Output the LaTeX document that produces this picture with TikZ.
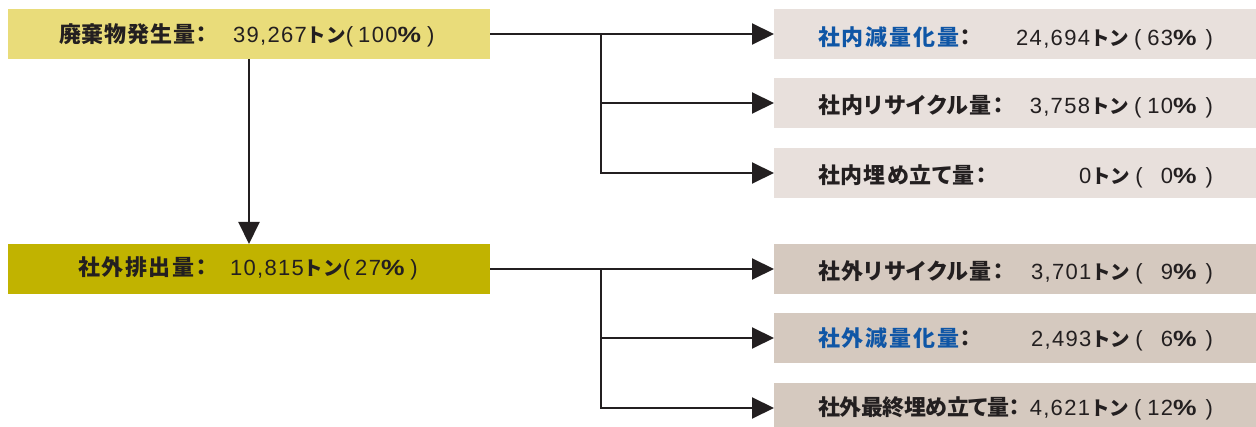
\documentclass[tikz,border=0pt]{standalone}
\usepackage{fontspec}
\usepackage{graphicx}
\usetikzlibrary{arrows.meta}
\newfontfamily\jpf{Noto Sans CJK JP}[RawFeature=+palt]
\newfontfamily\jpk{Noto Sans CJK JP}
\newfontfamily\numf{Liberation Sans}[LetterSpace=6]
\newfontfamily\parf{Liberation Sans}
\definecolor{ink}{HTML}{231F20}
\definecolor{srcfill}{HTML}{E9DC7A}
\definecolor{outfill}{HTML}{C1B300}
\definecolor{infill}{HTML}{E8E0DC}
\definecolor{exfill}{HTML}{D5C9BF}
\definecolor{lblblue}{HTML}{0F56A6}
\newcommand\lbl[2]{{\jpf\bfseries\fontsize{22}{26}\selectfont\addfontfeature{LetterSpace=#1}#2}}
\newcommand\nm[1]{{\numf\fontsize{22}{26}\selectfont #1}}
\newcommand\pr[1]{{\parf\fontsize{22}{26}\selectfont #1}}
\newcommand\tn{{\jpk\bfseries\fontsize{19.5}{23}\selectfont トン}}
\newcommand\pc{{\parf\bfseries\fontsize{22}{26}\selectfont\scalebox{1.2}[1]{\%}}}
\newcommand\rval[2]{\nm{#1}\tn\hspace{5pt}\pr{(}\hspace{6pt}\nm{#2}\pc\hspace{9pt}\pr{)}}
\newcommand\lval[2]{\nm{#1}\tn\pr{(}\hspace{5pt}\nm{#2}\pc\hspace{6pt}\pr{)}}
\tikzset{
  box/.style={anchor=north west, minimum width=482pt, minimum height=50pt, inner sep=0pt, outer sep=0pt, draw=none},
  txt/.style={inner sep=0pt, outer sep=0pt, text=ink},
  conn/.style={draw=ink, line width=2pt},
  arr/.style={conn, -{Triangle[length=22pt,width=21pt]}},
}
\begin{document}
\begin{tikzpicture}[x=1pt,y=-1pt]
\useasboundingbox (0,0) rectangle (1256,427);
% boxes
\node[box, fill=srcfill] (src) at (8,9) {};
\node[box, fill=outfill] (out) at (8,244) {};
\node[box, fill=infill] (r1) at (774,9) {};
\node[box, fill=infill] (r2) at (774,78) {};
\node[box, fill=infill] (r3) at (774,148) {};
\node[box, fill=exfill] (r4) at (774,244) {};
\node[box, fill=exfill] (r5) at (774,313) {};
\node[box, fill=exfill] (r6) at (774,383) {};
% left texts
\node[txt, anchor=base west] (srcl) at (59,43) {\lbl{4}{廃棄物発生量：}};
\node[txt, anchor=base west] (srcv) at (233,43) {\lval{39,267}{100}};
\node[txt, anchor=base west] (outl) at (78,276) {\lbl{7}{社外排出量：}};
\node[txt, anchor=base west] (outv) at (230,276) {\lval{10,815}{27}};
% right texts
\node[txt, anchor=base west] (r1l) at (818,46) {\lbl{9}{\textcolor{lblblue}{社内減量化量}：}};
\node[txt, anchor=base east] (r1v) at (1213,46) {\rval{24,694}{63}};
\node[txt, anchor=base west] (r2l) at (818,114) {\lbl{5}{社内リサイクル量：}};
\node[txt, anchor=base east] (r2v) at (1213,114) {\rval{3,758}{10}};
\node[txt, anchor=base west] (r3l) at (818,184) {\lbl{4.5}{社内埋め立て量：}};
\node[txt, anchor=base east] (r3v) at (1213,184) {\rval{0}{\phantom{0}0}};
\node[txt, anchor=base west] (r4l) at (818,280) {\lbl{5}{社外リサイクル量：}};
\node[txt, anchor=base east] (r4v) at (1213,280) {\rval{3,701}{\phantom{0}9}};
\node[txt, anchor=base west] (r5l) at (818,347) {\lbl{9}{\textcolor{lblblue}{社外減量化量}：}};
\node[txt, anchor=base east] (r5v) at (1213,347) {\rval{2,493}{\phantom{0}6}};
\node[txt, anchor=base west] (r6l) at (818,416) {\lbl{-2}{社外最終埋め立て量：}};
\node[txt, anchor=base east] (r6v) at (1213,416) {\rval{4,621}{12}};
% connectors
\coordinate (j1) at (601,34);
\coordinate (j2) at (601,269);
\draw[conn] (src.east) -- (j1);
\draw[arr] (j1) -- (r1.west);
\draw[arr] (j1) |- (r2.west);
\draw[arr] (j1) |- (r3.west);
\draw[arr] (src.south) -- (out.north);
\draw[conn] (out.east) -- (j2);
\draw[arr] (j2) -- (r4.west);
\draw[arr] (j2) |- (r5.west);
\draw[arr] (j2) |- (r6.west);
\end{tikzpicture}
\end{document}
